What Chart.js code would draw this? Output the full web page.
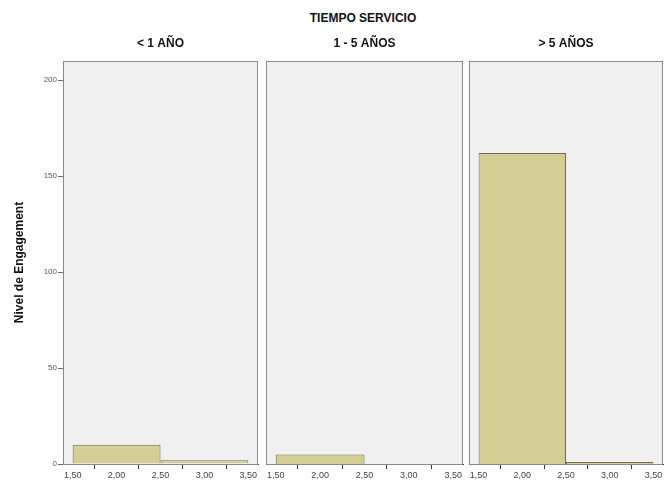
<!DOCTYPE html>
<html>
<head>
<meta charset="utf-8">
<script src="https://cdn.jsdelivr.net/npm/chart.js@4/dist/chart.umd.min.js"></script>
<style>
  body { margin: 0; background: #fff; width: 665px; height: 488px; position: relative; overflow: hidden; }
  canvas { position: absolute; top: 0; }
  #mainTitle { position: absolute; left: 63px; width: 600px; top: 11px; text-align: center;
    font: bold 12px "Liberation Sans", Arial, sans-serif; color: #111; }
</style>
</head>
<body>
<div id="mainTitle">TIEMPO SERVICIO</div>
<canvas id="c1" width="259" height="488" style="left:0px;width:259px;height:488px"></canvas>
<canvas id="c2" width="199" height="488" style="left:265px;width:199px;height:488px"></canvas>
<canvas id="c3" width="197" height="488" style="left:468px;width:197px;height:488px"></canvas>
<script>
// datos del gráfico
var panelNames = ['< 1 AÑO', '1 - 5 AÑOS', '> 5 AÑOS'];
var binCenters = [2, 3];
var countsMenos1 = [10, 2];
var counts1a5 = [5, 0];
var countsMas5 = [162, 1];
var xTicks = [1.5, 2, 2.5, 3, 3.5];
var yTicks = [0, 50, 100, 150, 200];
var yTitle = 'Nivel de Engagement';

var FONT = '"Liberation Sans", Arial, sans-serif';

// fondo gris, marco y título de cada panel
var panelDecor = {
    id: 'panelDecor',
    beforeDraw: function (chart) {
        var a = chart.chartArea, c = chart.ctx;
        c.save();
        c.fillStyle = '#f0f0f0';
        c.fillRect(a.left, a.top, a.right - a.left, a.bottom - a.top);
        c.restore();
    },
    afterDraw: function (chart, args, opts) {
        var a = chart.ctx, area = chart.chartArea;
        a.save();
        a.strokeStyle = '#8a8a8a';
        a.lineWidth = 1;
        a.strokeRect(area.left + 0.5, area.top + 0.5, area.right - area.left - 1, area.bottom - area.top);
        a.fillStyle = '#111';
        a.font = 'bold 12px ' + FONT;
        a.textAlign = 'center';
        a.textBaseline = 'middle';
        a.fillText(opts.name, (area.left + area.right) / 2, 44);
        a.restore();
    }
};

function makePanel(id, name, counts, withY, pad) {
    var points = binCenters.map(function (x, i) { return { x: x, y: counts[i] }; });
    return new Chart(document.getElementById(id).getContext('2d'), {
        type: 'bar',
        data: {
            datasets: [{
                data: points,
                backgroundColor: '#d4ce94',
                borderColor: '#6e6c58',
                borderWidth: 1,
                borderSkipped: 'start',
                barPercentage: 2,      // los ticks van cada 0,5 -> barra de 1 unidad
                categoryPercentage: 1
            }]
        },
        options: {
            responsive: false,
            animation: false,
            events: [],
            layout: { padding: { top: 61, left: pad[0], right: pad[1], bottom: 0 } },
            plugins: {
                legend: { display: false },
                tooltip: { enabled: false },
                panelDecor: { name: name }
            },
            scales: {
                x: {
                    type: 'linear',
                    min: 1.39, max: 3.61,
                    offset: false,
                    afterBuildTicks: function (s) { s.ticks = xTicks.map(function (v) { return { value: v }; }); },
                    afterFit: function (s) { s.height = 24; },
                    grid: { drawOnChartArea: false, tickLength: 5, color: '#333' },
                    border: { color: '#333', width: 1 },
                    ticks: {
                        autoSkip: false, maxRotation: 0, padding: 1,
                        color: '#444', font: { family: FONT, size: 9 },
                        callback: function (v) { return v.toFixed(2).replace('.', ','); }
                    }
                },
                y: {
                    display: withY,
                    min: 0, max: 210,
                    afterBuildTicks: function (s) { s.ticks = yTicks.map(function (v) { return { value: v }; }); },
                    afterFit: function (s) { s.width = withY ? 63 : 0; },
                    grid: { drawOnChartArea: false, tickLength: 5, color: '#666' },
                    border: { color: '#777', width: 1 },
                    ticks: { padding: 1, color: '#555', font: { family: FONT, size: 8 } },
                    title: { display: withY, text: yTitle, color: '#111', padding: { top: 12, bottom: 0 },
                        font: { family: FONT, size: 12, weight: 'bold' } }
                }
            }
        },
        plugins: [panelDecor]
    });
}

makePanel('c1', panelNames[0], countsMenos1, true, [0, 1]);
makePanel('c2', panelNames[1], counts1a5, false, [1, 1]);
makePanel('c3', panelNames[2], countsMas5, false, [1, 2]);
</script>
</body>
</html>
